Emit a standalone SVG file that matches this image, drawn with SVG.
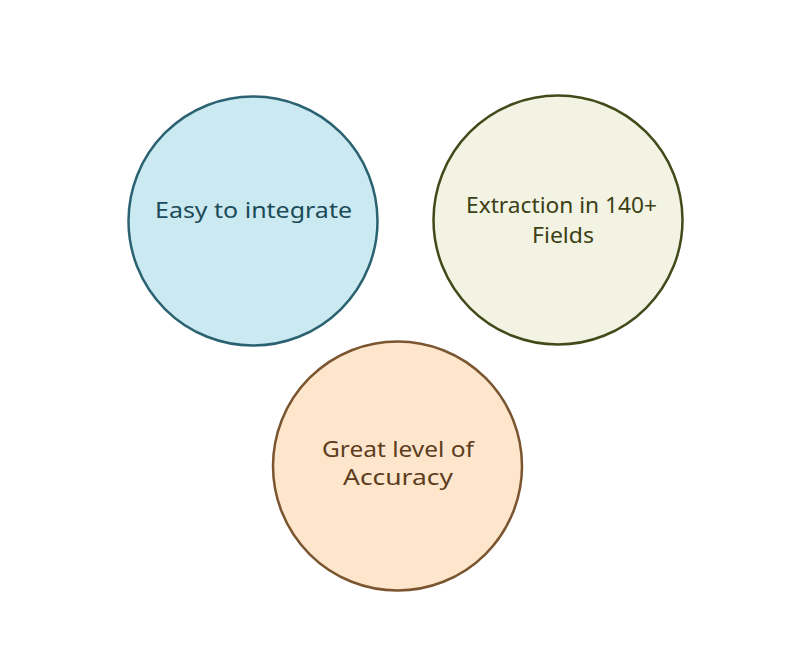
<svg xmlns="http://www.w3.org/2000/svg" width="792" height="648" viewBox="0 0 792 648">
<style>
text{font-family:"Noto Sans","Open Sans","Liberation Sans",sans-serif;font-size:21px;text-anchor:middle}
circle{stroke-width:2.5}
</style>
<rect width="792" height="648" fill="#ffffff"/>
<g id="node-easy">
<circle cx="253" cy="221" r="124.5" fill="#cbe9f1" stroke="#2b6272"/>
<text x="253.5" y="218" fill="#1b4b58" textLength="197" lengthAdjust="spacingAndGlyphs">Easy to integrate</text>
</g>
<g id="node-extraction">
<circle cx="558" cy="220" r="124.5" fill="#f2f3e3" stroke="#434a1a"/>
<text x="561.5" y="213" fill="#3c4015" textLength="191" lengthAdjust="spacingAndGlyphs">Extraction in 140+</text>
<text x="563" y="243" fill="#3c4015" textLength="62" lengthAdjust="spacingAndGlyphs">Fields</text>
</g>
<g id="node-accuracy">
<circle cx="397.5" cy="466" r="124.5" fill="#fde6cc" stroke="#7a5530"/>
<text x="398" y="457" fill="#5e3d1e" textLength="152" lengthAdjust="spacingAndGlyphs">Great level of</text>
<text x="398" y="485" fill="#5e3d1e" textLength="110" lengthAdjust="spacingAndGlyphs">Accuracy</text>
</g>
<g id="connectors"></g>
</svg>
